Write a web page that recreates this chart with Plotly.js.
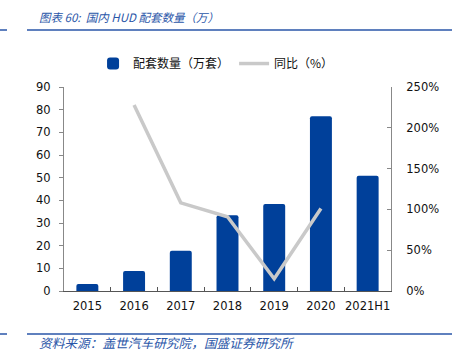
<!DOCTYPE html>
<html>
<head>
<meta charset="utf-8">
<script src="https://cdn.plot.ly/plotly-3.0.1.min.js"></script>
<style>html,body{margin:0;padding:0;background:#fff;}#chart{width:452px;height:352px;}</style>
</head>
<body>
<div id="chart"></div>
<script>
const categories = ["2015", "2016", "2017", "2018", "2019", "2020", "2021H1"];
const volume = [3.1, 8.8, 17.8, 33.4, 38.4, 77.1, 50.9];
const yoy = [null, 2.28, 1.08, 0.91, 0.15, 1.01, null];
const leftTicks = [0, 10, 20, 30, 40, 50, 60, 70, 80, 90];
const rightTicks = [0, 0.5, 1.0, 1.5, 2.0, 2.5];
const seriesNames = ["配套数量（万套）", "同比（%）"];
const titleText = "图表 60:  国内 HUD 配套数量（万）";
const sourceText = "资料来源：盖世汽车研究院，国盛证券研究所";

const tickFont = {family: "DejaVu Sans, Verdana, sans-serif", size: 11.5, color: "#111"};
const cjk = "Noto Sans CJK SC, sans-serif";
const blue = "#2a56a8";

const traces = [
  {type: "bar", x: categories, y: volume, name: seriesNames[0],
   marker: {color: "#00409a", line: {width: 0}, cornerradius: 2}, yaxis: "y"},
  {type: "scatter", mode: "lines", x: categories, y: yoy, name: seriesNames[1],
   line: {color: "#c9c9c9", width: 3.5}, yaxis: "y2", connectgaps: false}
];

const layout = {
  width: 452, height: 352,
  margin: {l: 64, r: 61, t: 87, b: 61},
  paper_bgcolor: "#fff", plot_bgcolor: "#fff",
  bargap: 0.53,
  showlegend: true,
  legend: {orientation: "h", x: 0.465, xanchor: "center", y: 1.115, yanchor: "middle",
           font: {family: cjk, size: 12, color: "#111"}, itemwidth: 30, traceorder: "normal"},
  xaxis: {type: "category", showgrid: false, zeroline: false, showline: true,
          linecolor: "#555", linewidth: 1, ticks: "inside", ticklen: 4, tickcolor: "#555",
          tickson: "boundaries", tickfont: tickFont, tickangle: 0, automargin: false,
          ticklabelstandoff: 4, fixedrange: true},
  yaxis: {range: [0, 90], tickvals: leftTicks, showgrid: false, zeroline: false,
          showline: true, linecolor: "#888", linewidth: 1, ticks: "outside", ticklen: 4,
          tickcolor: "#888", tickfont: tickFont, ticklabelstandoff: 6},
  yaxis2: {range: [0, 2.5], tickvals: rightTicks, tickformat: ".0%", overlaying: "y",
           side: "right", showgrid: false, zeroline: false, showline: true,
           linecolor: "#888", linewidth: 1, ticks: "inside", ticklen: 4, tickcolor: "#888",
           tickfont: tickFont, ticklabelstandoff: 12},
  shapes: [
    {type: "line", xref: "paper", yref: "paper", x0: -64/327, x1: -57/327,
     y0: (291 - 30)/204, y1: (291 - 30)/204, line: {color: blue, width: 1.5}},
    {type: "line", xref: "paper", yref: "paper", x0: -37/327, x1: 388/327,
     y0: (291 - 30)/204, y1: (291 - 30)/204, line: {color: blue, width: 1.5}},
    {type: "line", xref: "paper", yref: "paper", x0: -64/327, x1: -57/327,
     y0: (291 - 334)/204, y1: (291 - 334)/204, line: {color: blue, width: 1.5}},
    {type: "line", xref: "paper", yref: "paper", x0: -37/327, x1: 388/327,
     y0: (291 - 334)/204, y1: (291 - 334)/204, line: {color: blue, width: 1.5}}
  ],
  annotations: [
    {text: titleText, xref: "paper", yref: "paper", x: (37 - 64)/327, y: (291 - 17)/204,
     xanchor: "left", yanchor: "middle", showarrow: false,
     font: {family: cjk, size: 11.5, color: blue, style: "italic"}},
    {text: sourceText, xref: "paper", yref: "paper", x: (37 - 64)/327, y: (291 - 342)/204,
     xanchor: "left", yanchor: "middle", showarrow: false,
     font: {family: cjk, size: 12.7, color: blue, style: "italic"}}
  ]
};

Plotly.newPlot("chart", traces, layout, {displayModeBar: false, staticPlot: true});
</script>
</body>
</html>
